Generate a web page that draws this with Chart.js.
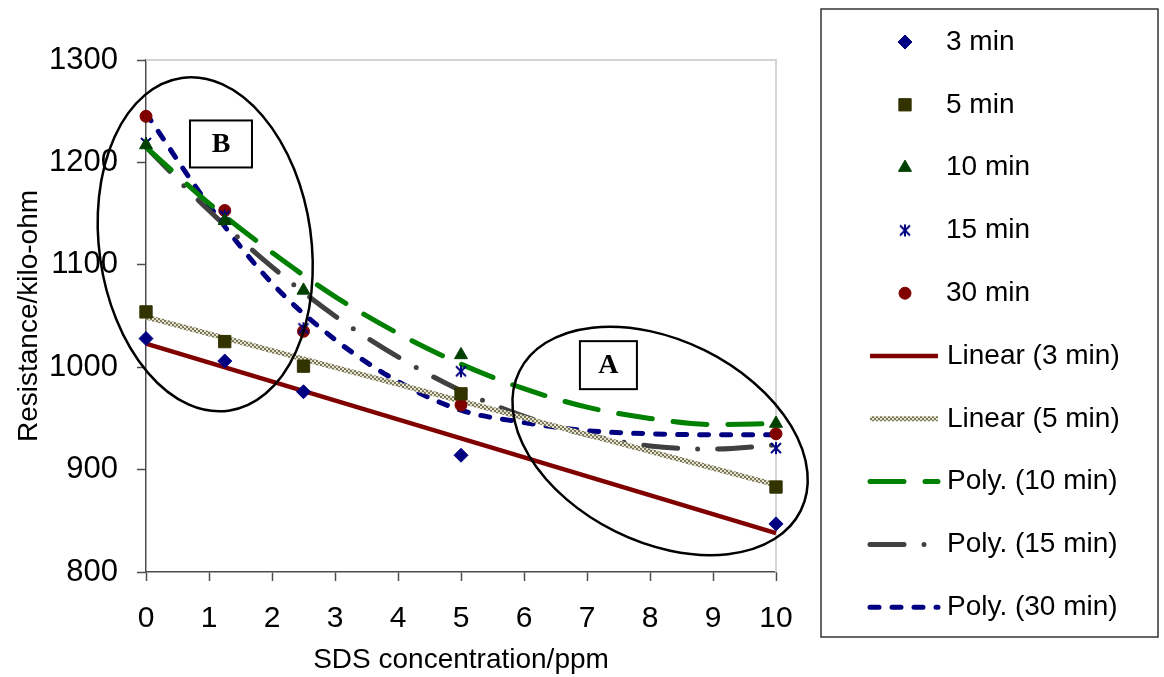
<!DOCTYPE html>
<html>
<head>
<meta charset="utf-8">
<script src="https://cdn.jsdelivr.net/npm/chart.js@4.4.1/dist/chart.umd.min.js"></script>
<style>
  body { margin: 0; background: #fff; }
  #wrap { width: 1164px; height: 677px; position: relative; }
</style>
</head>
<body>
<div id="wrap"><canvas id="chart"></canvas></div>
<script>
// SDS concentration (ppm) of the measured samples
const conc = [0, 1.25, 2.5, 5, 10];

// resistance (kilo-ohm) after each exposure time
const r3min  = [1028, 1006, 976, 914, 847];
const r5min  = [1054, 1025, 1001, 974, 883];
const r10min = [1217, 1143, 1075, 1012, 945];
const r15min = [1219, 1148, 1038, 996, 921];
const r30min = [1245, 1153, 1035, 963, 935];

// trendlines
const linX = [0, 10];
const lin3 = [1023, 838];
const lin5 = [1049, 885];
const polyX  = [0, 1, 2, 3, 4, 5, 6, 7, 8, 9, 10];
const poly10 = [1215, 1160, 1112, 1069, 1033, 1003, 979, 961, 950, 944, 945];
const poly15 = [1215, 1153, 1098, 1050, 1010, 977, 952, 934, 923, 920, 924];
const poly30 = [1248, 1158, 1082, 1027, 986, 958, 946, 938, 935, 934, 934];

const FONT = '"Liberation Sans", Arial, sans-serif';

function pts(xs, ys) {
  return xs.map((x, i) => ({x: x, y: ys[i]}));
}

// asterisk marker (x with a vertical bar), like the excel one
function starMarker() {
  const c = document.createElement('canvas');
  c.width = 14; c.height = 14;
  const g = c.getContext('2d');
  g.strokeStyle = '#000080';
  g.lineWidth = 2;
  g.beginPath();
  g.moveTo(2, 2); g.lineTo(12, 12);
  g.moveTo(12, 2); g.lineTo(2, 12);
  g.moveTo(7, 1); g.lineTo(7, 13);
  g.stroke();
  return c;
}

// checkered texture used by the 5 min linear trendline
function checkPattern() {
  const c = document.createElement('canvas');
  c.width = 4; c.height = 4;
  const g = c.getContext('2d');
  g.fillStyle = '#e4e1cc';
  g.fillRect(0, 0, 4, 4);
  g.fillStyle = '#7a775a';
  g.fillRect(0, 0, 2, 2);
  g.fillRect(2, 2, 2, 2);
  return g.createPattern(c, 'repeat');
}

function markerSet(label, data, style, color, radius) {
  return {
    label: label, data: pts(conc, data), showLine: false,
    pointStyle: style, pointRadius: radius,
    backgroundColor: color, borderColor: color, pointBorderWidth: 1,
    clip: false, order: 0
  };
}

function trendSet(label, xs, ys, color, dash, width) {
  return {
    label: label, data: pts(xs, ys), showLine: true,
    borderColor: color, borderWidth: width, borderDash: dash,
    borderCapStyle: dash.length ? 'round' : 'butt',
    pointRadius: 0, tension: 0.4, cubicInterpolationMode: 'monotone',
    clip: false, order: 1
  };
}

const datasets = [
  markerSet('3 min', r3min, 'rectRot', '#000080', 7),
  markerSet('5 min', r5min, 'rect', '#333300', 8.7),
  markerSet('10 min', r10min, 'triangle', '#004000', 7.5),
  markerSet('15 min', r15min, starMarker(), '#000080', 7),
  markerSet('30 min', r30min, 'circle', '#800000', 6),
  trendSet('Linear (3 min)', linX, lin3, '#800000', [], 4.5),
  trendSet('Linear (5 min)', linX, lin5, checkPattern(), [], 5),
  trendSet('Poly. (10 min)', polyX, poly10, '#008000', [34, 21], 5),
  trendSet('Poly. (15 min)', polyX, poly15, '#404040', [34, 20, 0, 20], 5),
  trendSet('Poly. (30 min)', polyX, poly30, '#000080', [9, 13], 5)
];

// light grey plot-area frame on top and right
const frame = {
  id: 'frame',
  beforeDatasetsDraw(chart) {
    const a = chart.chartArea, ctx = chart.ctx;
    ctx.save();
    ctx.strokeStyle = '#d4d4d4';
    ctx.lineWidth = 2;
    ctx.beginPath();
    ctx.moveTo(a.left, a.top);
    ctx.lineTo(a.right, a.top);
    ctx.lineTo(a.right, a.bottom);
    ctx.stroke();
    ctx.restore();
  }
};

// the two circled regions, A and B
const regions = {
  id: 'regions',
  afterDatasetsDraw(chart) {
    const ctx = chart.ctx, xs = chart.scales.x, ys = chart.scales.y;
    const marks = [
      {cx: 0.94, cy: 1120, rx: 106, ry: 168, rot: -0.14, bx: 1.19, by: 1218, bw: 62, bh: 47, t: 'B'},
      {cx: 8.16, cy: 928, rx: 157, ry: 101, rot: 0.46, bx: 7.34, by: 1002, bw: 57, bh: 48, t: 'A'}
    ];
    ctx.save();
    marks.forEach(m => {
      const px = xs.getPixelForValue(m.cx), py = ys.getPixelForValue(m.cy);
      ctx.strokeStyle = '#000';
      ctx.lineWidth = 2.5;
      ctx.beginPath();
      ctx.ellipse(px, py, m.rx, m.ry, m.rot, 0, Math.PI * 2);
      ctx.stroke();
      const bx = xs.getPixelForValue(m.bx), by = ys.getPixelForValue(m.by);
      ctx.lineWidth = 2;
      ctx.fillStyle = '#fff';
      ctx.fillRect(bx - m.bw / 2, by - m.bh / 2, m.bw, m.bh);
      ctx.strokeRect(bx - m.bw / 2, by - m.bh / 2, m.bw, m.bh);
      ctx.fillStyle = '#000';
      ctx.font = 'bold 28px "Liberation Serif", "Times New Roman", serif';
      ctx.textAlign = 'center';
      ctx.textBaseline = 'middle';
      ctx.fillText(m.t, bx, by + 1);
    });
    ctx.restore();
  }
};

// boxed legend on the right
const boxLegend = {
  id: 'boxLegend',
  afterDraw(chart) {
    const ctx = chart.ctx;
    ctx.save();
    ctx.strokeStyle = '#333';
    ctx.lineWidth = 1.5;
    ctx.strokeRect(821, 9, 337, 628);
    ctx.font = '28px ' + FONT;
    ctx.textBaseline = 'middle';
    ctx.textAlign = 'left';
    chart.data.datasets.forEach((ds, i) => {
      const y = 42 + i * 62.8;
      if (ds.showLine) {
        ctx.save();
        ctx.strokeStyle = ds.borderColor;
        ctx.lineWidth = ds.borderWidth;
        ctx.lineCap = ds.borderCapStyle;
        ctx.setLineDash(ds.borderDash);
        ctx.beginPath();
        ctx.moveTo(870, y);
        ctx.lineTo(938, y);
        ctx.stroke();
        ctx.restore();
        ctx.fillStyle = '#000';
        ctx.fillText(ds.label, 947, y);
      } else {
        ctx.save();
        ctx.fillStyle = ds.backgroundColor;
        ctx.strokeStyle = ds.borderColor;
        ctx.lineWidth = 1;
        Chart.helpers.drawPoint(ctx, {pointStyle: ds.pointStyle, radius: ds.pointRadius, rotation: 0, borderWidth: 1}, 905, y);
        ctx.restore();
        ctx.fillStyle = '#000';
        ctx.fillText(ds.label, 946, y);
      }
    });
    ctx.restore();
  }
};

new Chart(document.getElementById('chart'), {
  type: 'scatter',
  data: {datasets: datasets},
  plugins: [frame, regions, boxLegend],
  options: {
    responsive: true,
    maintainAspectRatio: false,
    animation: false,
    layout: {padding: {left: 0, right: 388, top: 60, bottom: 0}},
    plugins: {legend: {display: false}, tooltip: {enabled: false}},
    scales: {
      x: {
        type: 'linear', min: 0, max: 10,
        afterFit: s => { s.height = 105; },
        ticks: {stepSize: 1, color: '#000', padding: 20, font: {family: FONT, size: 30}},
        grid: {drawOnChartArea: false, drawTicks: true, tickLength: 9, tickColor: '#4d4d4d', tickWidth: 1.5},
        border: {color: '#4d4d4d', width: 1.5},
        title: {display: true, text: 'SDS concentration/ppm', color: '#000',
                font: {family: FONT, size: 28}, padding: {top: 0, bottom: 0}}
      },
      y: {
        type: 'linear', min: 800, max: 1300,
        afterFit: s => { s.width = 146; },
        ticks: {stepSize: 100, color: '#000', padding: 19, font: {family: FONT, size: 31},
                callback: v => String(v)},
        grid: {drawOnChartArea: false, drawTicks: true, tickLength: 9, tickColor: '#4d4d4d', tickWidth: 1.5},
        border: {color: '#4d4d4d', width: 1.5},
        title: {display: true, text: 'Resistance/kilo-ohm', color: '#000',
                font: {family: FONT, size: 28}, padding: {top: 12, bottom: 0}}
      }
    }
  }
});
</script>
</body>
</html>
